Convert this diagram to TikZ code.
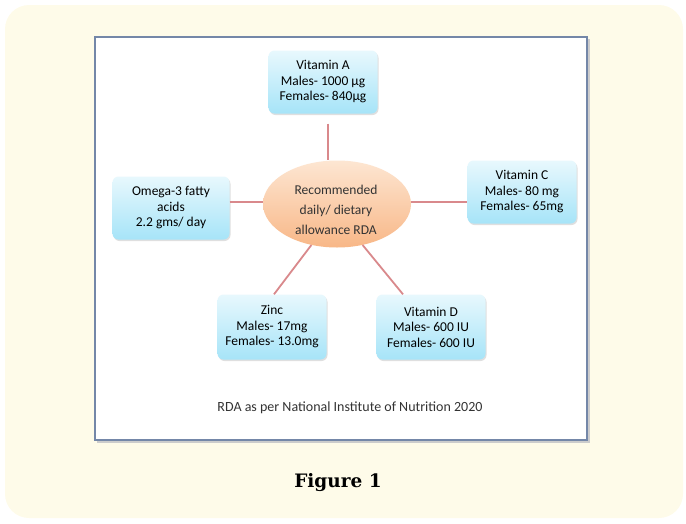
\documentclass[tikz,border=0pt]{standalone}
\usepackage{fontspec}
\setmainfont{Carlito}
\newfontfamily\captionfont{DejaVu Serif}
\usetikzlibrary{shapes.geometric,shadows}

\definecolor{cream}{HTML}{FEFBE9}
\definecolor{framecol}{HTML}{7487A8}
\definecolor{boxtop}{HTML}{E8F8FD}
\definecolor{boxbot}{HTML}{A6E4F8}
\definecolor{ovaltop}{HTML}{FDE6D2}
\definecolor{ovalbot}{HTML}{F8B787}
\definecolor{linkcol}{HTML}{D9898C}

\tikzset{
  rdabox/.style={rectangle, rounded corners=6pt, top color=boxtop, bottom color=boxbot,
    draw=none, align=center, font=\fontsize{13.5}{15.5}\selectfont,
    minimum width=109pt, minimum height=63pt, inner sep=2pt,
    drop shadow={opacity=0.25, shadow xshift=1pt, shadow yshift=-1.5pt}},
  rdaoval/.style={ellipse, top color=ovaltop, bottom color=ovalbot, draw=none,
    minimum width=148pt, minimum height=87pt, inner sep=0pt},
  ovaltext/.style={align=center, font=\fontsize{13.5}{20}\selectfont, text=black!80},
  link/.style={draw=linkcol, line width=1.8pt}
}

\begin{document}
\begin{tikzpicture}[x=1pt, y=-1pt]
  \useasboundingbox (0,0) rectangle (686,523);
  % background and frame
  \fill[cream, rounded corners=24pt] (5,5) rectangle (683,518);
  \fill[black!20] (97,39) rectangle (590,443);
  \filldraw[fill=white, draw=framecol, line width=1.5pt] (95,37) rectangle (587,440);

  % centre and nutrients
  \node[rdaoval] (rda) at (337,204) {};
  \node[ovaltext] (rdatext) at ([xshift=-1pt, yshift=-6pt]rda.center)
    {Recommended\\daily/ dietary\\allowance RDA};
  \node[rdabox] (vitA) at (323,82) {Vitamin A\\Males- 1000 µg\\Females- 840µg};
  \node[rdabox, minimum width=117pt] (omega) at (171,208) {Omega-3 fatty\\acids\\2.2 gms/ day};
  \node[rdabox] (vitC) at (522,192) {Vitamin C\\Males- 80 mg\\Females- 65mg};
  \node[rdabox, minimum height=65pt] (zinc) at (272,327) {Zinc\\Males- 17mg\\Females- 13.0mg};
  \node[rdabox, minimum height=65pt] (vitD) at (431,327) {Vitamin D\\Males- 600 IU\\Females- 600 IU};

  % links
  \draw[link] ([xshift=5pt, yshift=-10pt]vitA.south) -- ([xshift=-9pt]rda.north);
  \draw[link] ([yshift=6pt]omega.east) -- ([yshift=2pt]rda.west);
  \draw[link] ([yshift=2pt]rda.east) -- ([yshift=-10pt]vitC.west);
  \draw[link] ([xshift=2pt]zinc.north) -- (rda.-122);
  \draw[link] ([xshift=-28pt]vitD.north) -- (rda.-58);

  % notes
  \node[font=\fontsize{14}{16}\selectfont, text=black!80] (note) at (350,408)
    {RDA as per National Institute of Nutrition 2020};
  \node[font=\captionfont\bfseries\fontsize{18.5}{22}\selectfont] (fig) at (338,483) {Figure 1};
\end{tikzpicture}
\end{document}
